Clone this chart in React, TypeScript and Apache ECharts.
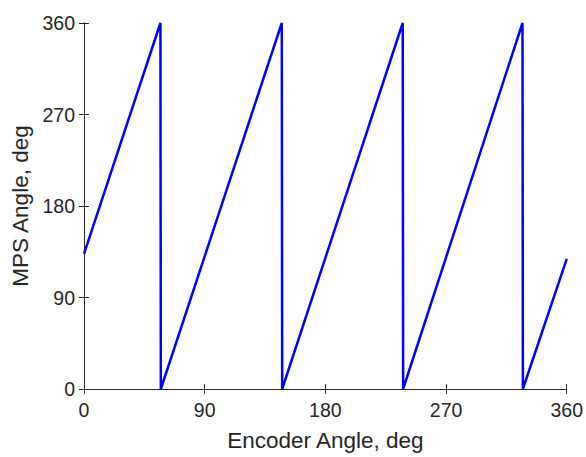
import React, { useEffect, useRef } from "react";
import * as echarts from "echarts";

const encoderAngle = [0, 57, 57.3, 147.5, 147.8, 237.7, 238, 327, 327.3, 360];
const mpsAngle = [133, 360, 0, 360, 0, 360, 0, 360, 0, 128];
const tickValues = [0, 90, 180, 270, 360];

const FONT = "'Liberation Sans', Arial, Helvetica, sans-serif";
const AXIS_COLOR = "#262626";

export default function App() {
  const ref = useRef<HTMLDivElement>(null);
  useEffect(() => {
    if (!ref.current) return;
    const chart = echarts.init(ref.current, undefined, { renderer: "svg" });
    const data = encoderAngle.map((x, i) => [x, mpsAngle[i]]);
    const baseAxis = {
      type: "value" as const,
      min: tickValues[0],
      max: tickValues[tickValues.length - 1],
      interval: 90,
      splitLine: { show: false },
      axisLine: { show: true, lineStyle: { color: AXIS_COLOR, width: 1 } },
      axisTick: { show: true, inside: true, length: 5, lineStyle: { color: AXIS_COLOR } },
    };
    chart.setOption({
      animation: false,
      backgroundColor: "#ffffff",
      grid: { left: 84, top: 23, width: 485, height: 370, containLabel: false },
      xAxis: [
        {
          ...baseAxis,
          position: "bottom",
          name: "Encoder Angle, deg",
          nameLocation: "middle",
          nameGap: 40,
          nameTextStyle: { fontFamily: FONT, fontSize: 22.5, color: AXIS_COLOR },
          axisLabel: { fontFamily: FONT, fontSize: 19.5, color: AXIS_COLOR, margin: 11 },
        },
        {
          ...baseAxis,
          position: "top",
          axisLabel: { show: false },
        },
      ],
      yAxis: [
        {
          ...baseAxis,
          position: "left",
          name: "MPS Angle, deg",
          nameLocation: "middle",
          nameGap: 49,
          nameTextStyle: { fontFamily: FONT, fontSize: 22.5, color: AXIS_COLOR },
          axisLabel: { fontFamily: FONT, fontSize: 19.5, color: AXIS_COLOR, margin: 9 },
        },
        {
          ...baseAxis,
          position: "right",
          axisLabel: { show: false },
        },
      ],
      series: [
        {
          type: "line",
          data,
          xAxisIndex: 0,
          yAxisIndex: 0,
          showSymbol: false,
          lineStyle: { color: "#0000ff", width: 2.5 },
          clip: false,
        },
      ],
    });
    return () => chart.dispose();
  }, []);
  return <div ref={ref} style={{ width: 586, height: 457, position: "absolute", left: 0, top: 0 }} />;
}
